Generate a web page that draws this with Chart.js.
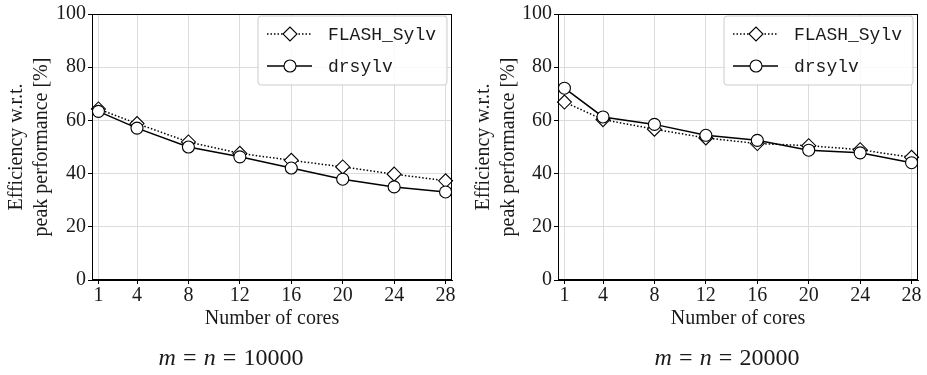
<!DOCTYPE html>
<html>
<head>
<meta charset="utf-8">
<script src="https://cdn.jsdelivr.net/npm/chart.js@4/dist/chart.umd.min.js"></script>
<style>
    body { margin: 0; background: #fff; }
    #wrap { position: relative; width: 927px; height: 375px; }
    canvas { position: absolute; top: 0; }
    .caption { position: absolute; top: 344px; font-family: "Liberation Serif", serif; font-size: 24px; color: #1a1a1a; white-space: nowrap; transform: translateX(-50%); }
    .caption .eq { margin: 0 0.3em; }
</style>
</head>
<body>
<div id="wrap">
    <canvas id="chartLeft" width="463" height="375" style="left:0"></canvas>
    <canvas id="chartRight" width="464" height="375" style="left:463px"></canvas>
    <div class="caption" style="left:231px"><i>m</i><span class="eq">=</span><i>n</i><span class="eq">=</span>10000</div>
    <div class="caption" style="left:727px"><i>m</i><span class="eq">=</span><i>n</i><span class="eq">=</span>20000</div>
</div>
<script>
// Data
const cores = [1, 4, 8, 12, 16, 20, 24, 28];
const xTicks = [1, 4, 8, 12, 16, 20, 24, 28];
const yTicks = [0, 20, 40, 60, 80, 100];
const seriesNames = ['FLASH_Sylv', 'drsylv'];

// m = n = 10000
const flash10k = [64.3, 58.8, 51.9, 47.6, 45, 42.5, 39.8, 37.3];
const drsylv10k = [63.4, 57.1, 50, 46.3, 42.1, 37.9, 35, 33.1];

// m = n = 20000
const flash20k = [66.9, 60.3, 56.7, 53.4, 51.3, 50.5, 49, 46.1];
const drsylv20k = [72.1, 61.3, 58.5, 54.4, 52.5, 48.8, 47.8, 44.1];

const serif = 'Liberation Serif';
const textColour = '#1a1a1a';

function toPoints(values) {
    return cores.map((c, i) => ({ x: c, y: values[i] }));
}

// Draws the closed frame round the plot and the legend box in the top right corner
const framePlugin = {
    id: 'frameAndLegend',
    afterDraw(chart) {
        const ctx = chart.ctx;
        const area = chart.chartArea;
        ctx.save();
        ctx.strokeStyle = '#000';
        ctx.lineWidth = 1;
        ctx.strokeRect(area.left + 0.5, area.top + 0.5, area.right - area.left - 1, area.bottom - area.top - 1);

        // legend box
        const boxW = 189, boxH = 69;
        const bx = area.right - 5 - boxW;
        const by = area.top + 2;
        ctx.fillStyle = 'rgba(255,255,255,0.85)';
        ctx.strokeStyle = '#cccccc';
        ctx.beginPath();
        ctx.roundRect(bx, by, boxW, boxH, 3);
        ctx.fill();
        ctx.stroke();

        const rows = [by + 18, by + 50];
        chart.data.datasets.forEach((ds) => {
            const y = rows[ds.legendRow];
            ctx.strokeStyle = '#000';
            ctx.lineWidth = ds.borderWidth;
            ctx.setLineDash(ds.borderDash || []);
            ctx.beginPath();
            ctx.moveTo(bx + 9, y);
            ctx.lineTo(bx + 54, y);
            ctx.stroke();
            ctx.setLineDash([]);
            ctx.fillStyle = '#fff';
            ctx.lineWidth = ds.pointBorderWidth;
            Chart.helpers.drawPoint(ctx, {
                pointStyle: ds.pointStyle,
                radius: ds.pointRadius,
                rotation: 0,
                borderWidth: ds.pointBorderWidth
            }, bx + 32, y);
            ctx.fillStyle = textColour;
            ctx.font = '18px "Liberation Mono"';
            ctx.textBaseline = 'middle';
            ctx.fillText(ds.label, bx + 70, y + 1);
        });
        ctx.restore();
    }
};

function makeConfig(flashValues, drsylvValues, yWidth, yTitlePad, rightPad) {
    return {
        type: 'line',
        data: {
            datasets: [{
                label: seriesNames[1],
                legendRow: 1,
                data: toPoints(drsylvValues),
                borderColor: '#000',
                borderWidth: 1.5,
                pointStyle: 'circle',
                pointRadius: 6,
                pointBackgroundColor: '#fff',
                pointBorderColor: '#000',
                pointBorderWidth: 1.1,
                clip: 20,
                order: 0
            }, {
                label: seriesNames[0],
                legendRow: 0,
                data: toPoints(flashValues),
                borderColor: '#000',
                borderWidth: 1.5,
                borderDash: [1.5, 2],
                pointStyle: 'rectRot',
                pointRadius: 7,
                pointBackgroundColor: '#fff',
                pointBorderColor: '#000',
                pointBorderWidth: 1.1,
                clip: 20,
                order: 1
            }]
        },
        options: {
            responsive: false,
            animation: false,
            layout: {
                padding: { left: 0, right: rightPad, top: 13, bottom: 45 }
            },
            scales: {
                x: {
                    type: 'linear',
                    min: 0.5,
                    max: 28.5,
                    afterBuildTicks: (s) => { s.ticks = xTicks.map(v => ({ value: v })); },
                    afterFit: (s) => { s.height = 50; },
                    grid: { color: '#dcdcdc', tickColor: '#000', tickLength: 4 },
                    border: { color: '#000' },
                    ticks: { color: textColour, padding: 0, maxRotation: 0, font: { family: serif, size: 20 } },
                    title: {
                        display: true,
                        text: 'Number of cores',
                        color: textColour,
                        padding: { top: 0, bottom: 0 },
                        font: { family: serif, size: 20, lineHeight: 1.1 }
                    }
                },
                y: {
                    min: 0,
                    max: 100,
                    afterBuildTicks: (s) => { s.ticks = yTicks.map(v => ({ value: v })); },
                    afterFit: (s) => { s.width = yWidth; },
                    grid: { color: '#dcdcdc', tickColor: '#000', tickLength: 4 },
                    border: { color: '#000' },
                    ticks: { color: textColour, padding: 2, font: { family: serif, size: 20 } },
                    title: {
                        display: true,
                        text: ['Efficiency w.r.t.', 'peak performance [%]'],
                        color: textColour,
                        padding: { top: yTitlePad, bottom: 0 },
                        font: { family: serif, size: 20, lineHeight: 1.25 }
                    }
                }
            },
            plugins: {
                legend: { display: false },
                tooltip: { enabled: false },
                title: { display: false }
            }
        },
        plugins: [framePlugin]
    };
}

const chartLeft = new Chart('chartLeft', makeConfig(flash10k, drsylv10k, 92, 4, 11));
const chartRight = new Chart('chartRight', makeConfig(flash20k, drsylv20k, 95, 8, 9));
</script>
</body>
</html>
